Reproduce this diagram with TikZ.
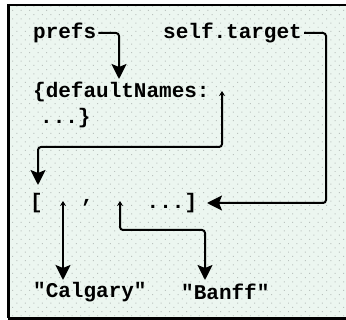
\documentclass[tikz,border=0pt]{standalone}
\usepackage{fontspec}
\setmonofont{Liberation Mono}
\usetikzlibrary{arrows.meta,patterns.meta}
\definecolor{paper}{RGB}{236,246,240}
\definecolor{speck}{RGB}{186,194,190}
\tikzset{
  code/.style={font=\ttfamily\bfseries\fontsize{21}{21}\selectfont, inner sep=0pt, anchor=west},
  bighead/.tip={Stealth[length=15pt,width=15pt,inset=3pt]},
  ptr/.style={draw, line width=2pt, rounded corners=3pt, -bighead},
  slot/.style={{Stealth[length=5pt,width=6pt]}-bighead}
}
\begin{document}
\begin{tikzpicture}[x=1pt,y=-1pt]
\useasboundingbox (0,0) rectangle (346,320);
\fill[white] (0,0) rectangle (346,320);
% speckled panel
\fill[paper] (8,5) rectangle (346,317);
\fill[pattern={Dots[distance=6pt,radius=0.7pt,angle=45]}, pattern color=speck] (8,5) rectangle (346,317);
% frame (open on the right)
\draw[line width=2pt] (346,5) -- (8.5,5);
\draw[line width=3pt] (8.5,4) -- (8.5,318.5);
\draw[line width=3pt] (8,318.5) -- (346,318.5);

% texts
\node[code] (prefs) at (33,33) {prefs};
\node[code] (self)  at (163,33) {self.target};
\node[code] (dn)    at (33,92) {\{defaultNames:};
\node[code] (dnend) at (40,118) {...\}};
\node[code] (lb)    at (30,203) {[};
\node[code] (comma) at (81,203) {,};
\node[code] (rb)    at (146.5,203) {...]};
\node[code] (cal)   at (33,292) {"Calgary"};
\node[code] (banff) at (181,292) {"Banff"};

% slot and target points
\coordinate (dnIn)  at (119,79);
\coordinate (dnSlot) at (222,91);
\coordinate (arrIn) at (38,185);
\coordinate (rbIn)  at (207,203);
\coordinate (slotA) at (63,201);
\coordinate (slotB) at (120,201);
\coordinate (calIn) at (63,280);
\coordinate (banIn) at (205,280);

% pointers
\draw[ptr, shorten <=2pt] (prefs.east) -| (dnIn);
\draw[ptr, shorten <=2pt] (self.east) -- ++(24,0) |- (rbIn);
\draw[ptr, slot] (dnSlot) -- ++(0,56) -| (arrIn);
\draw[ptr, slot] (slotA) -- (calIn);
\draw[ptr, slot] (slotB) -- ++(0,29) -| (banIn);
\end{tikzpicture}
\end{document}
